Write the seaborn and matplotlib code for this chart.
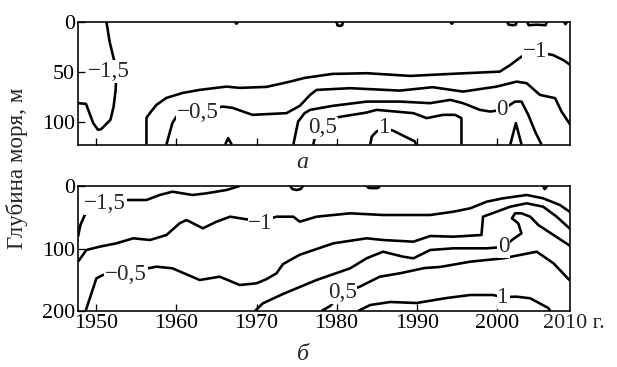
import matplotlib
matplotlib.use("Agg")
import matplotlib.pyplot as plt
import seaborn as sns

# ---- panel a (0-120 m) isolines: year / depth pairs
a_m15_year = [1947.7, 1948.7, 1949.6, 1950.2, 1950.6, 1951.75, 1952.15, 1952.4, 1952.5, 1952.3, 1951.65, 1951.25]
a_m15_depth = [81.6, 82.3, 101.6, 108.3, 107.6, 98.3, 85, 68.3, 53, 41.6, 20, 0]

a_m10_year = [1956.25, 1956.25, 1956.7, 1957.5, 1958.75, 1960.8, 1962.9, 1966.25, 1967.9, 1971.25, 1974.2,
              1976.0, 1979.5, 1983.8, 1989.2, 1994.2, 2000.4, 2001.7, 2003.1, 2004.8, 2007.0, 2008.3, 2009.2]
a_m10_depth = [123, 96.3, 91.3, 83.3, 76.3, 71.3, 68.3, 65, 66.3, 65.3, 60,
               56.3, 52.3, 51.6, 54.3, 52.3, 50, 43.3, 35, 30.3, 33.3, 38.3, 43.3]

a_m05_year = [1958.75, 1959.15, 1959.5, 1960.0, 1962.7, 1965.8, 1967.0, 1969.5, 1973.75, 1975.4, 1976.7, 1977.5,
              1981.7, 1987.9, 1992.0, 1995.8, 2000.0, 2002.5, 2003.75, 2005.4, 2007.3, 2008.1, 2009.2]
a_m05_depth = [123, 111.3, 101.3, 95, 90.3, 85, 86.3, 93.3, 91.6, 84.3, 73.3, 68.3,
               66.6, 69, 65.6, 70, 65, 60, 61.6, 73.3, 76.6, 90, 103.3]

a_0_year = [1974.6, 1975.2, 1976.0, 1976.7, 1979.5, 1983.8, 1987.9, 1991.7, 1994.2, 1995.8, 1997.9, 1999.2,
            2000.7, 2002.3, 2003.1, 2003.95, 2004.8, 2005.6]
a_0_depth = [123, 100, 91.6, 88.3, 84.3, 80, 80, 81.6, 78.3, 81.6, 88.3, 90,
             88.3, 80, 80, 93.3, 110, 123]

a_05_year = [1977.1, 1977.3, 1978.5, 1980.2, 1983.75, 1985.0, 1989.6, 1991.25, 1993.3, 1994.8, 1995.6, 1995.6]
a_05_depth = [123, 115, 105.3, 95.6, 91, 88.3, 91.6, 96.6, 93.3, 93.3, 96.6, 123]

a_10_year = [1984.2, 1984.4, 1985.0, 1986.0, 1987.1, 1989.8, 1989.9]
a_10_depth = [123, 115, 110, 106.3, 109.3, 120, 123]

a_spike_year = [2001.7, 2002.4, 2003.1]
a_spike_depth = [123, 101.6, 123]
a_bump_year = [1966.1, 1966.45, 1966.9]
a_bump_depth = [123, 116.6, 123]

# small patches at the surface
a_top1_year = [1967.3, 1967.5, 1967.7]
a_top1_depth = [0, 2, 0]
a_top2_year = [1980.0, 1980.1, 1980.4, 1980.7, 1980.8]
a_top2_depth = [0, 3.5, 4.3, 3.5, 0]
a_top3_year = [1994.2, 1994.4, 1994.6]
a_top3_depth = [0, 2, 0]
a_top4_year = [2001.3, 2001.5, 2002.0, 2002.4, 2002.5]
a_top4_depth = [0, 3, 3.5, 3, 0]
a_top5_year = [2003.8, 2004.0, 2005.0, 2006.1, 2006.3]
a_top5_depth = [0, 3.5, 3, 3.5, 0]
a_top6_year = [2008.4, 2008.6, 2008.8]
a_top6_depth = [0, 2.5, 0]

# ---- panel b (0-200 m)
b_m15_year = [1947.7, 1948.0, 1948.55, 1949.8, 1951.65, 1953.95, 1956.25, 1957.9, 1959.5, 1962.0, 1963.75, 1966.25, 1967.9]
b_m15_depth = [81.1, 62.4, 46.4, 30.4, 24, 22.4, 22.4, 14.4, 9.1, 14.4, 11.7, 6.4, 0]

b_m10_year = [1947.7, 1948.75, 1950.4, 1952.5, 1954.6, 1956.7, 1958.75, 1960.4, 1961.25, 1963.3, 1965.0, 1966.7,
              1968.75, 1970.7, 1972.5, 1974.6, 1975.4, 1977.5, 1981.7, 1985.8, 1991.7, 1994.6, 1996.7, 1998.75,
              2000.8, 2003.75, 2005.8, 2007.9, 2009.2]
b_m10_depth = [121.1, 102.4, 97.1, 91.7, 83.7, 86.4, 78.4, 59.7, 54.4, 67.7, 57.1, 49.1,
               53.3, 56, 49.1, 49.1, 57.1, 49.1, 43.7, 46.4, 46.4, 41.1, 35.7, 25.1,
               19.7, 14.4, 19.7, 30.4, 42]

b_m05_year = [1948.65, 1950.0, 1950.8, 1953.5, 1957.5, 1959.5, 1962.9, 1965.4, 1967.9, 1970.0, 1971.25, 1972.5,
              1973.3, 1975.4, 1979.6, 1983.75, 1985.8, 1989.6, 1991.7, 1994.6, 1998.1, 1998.3, 2000.0, 2001.7,
              2003.75, 2005.8, 2007.5, 2009.2]
b_m05_depth = [200, 147.7, 142.4, 139, 129.1, 131.7, 150.4, 145.1, 158.4, 155.7, 149, 139.7,
               125, 110, 91.7, 83.7, 86.4, 89.1, 80, 81.1, 78.4, 49.1, 41.1, 33.1,
               27.7, 33.1, 49.1, 69]

b_0_year = [1969.8, 1970.8, 1973.3, 1977.5, 1981.7, 1983.75, 1985.8, 1988.3, 1989.6, 1991.7, 1994.6, 1998.75,
            2000.9, 2001.9, 2003.1, 2002.7, 2001.9, 2002.3, 2003.1, 2004.2, 2005.2, 2007.1, 2009.2]
b_0_depth = [200, 187.7, 172.8, 150.4, 131.7, 115.7, 105.1, 113.1, 115.7, 102.4, 99.7, 99.7,
             97.6, 86.4, 75.7, 59.7, 51.7, 43.7, 43.7, 49.1, 62.4, 78.4, 96]

b_05_year = [1978.1, 1979.2, 1980.7, 1982.9, 1985.4, 1987.9, 1991.0, 1992.9, 1996.7, 2000.8, 2002.9, 2005.0, 2007.1, 2009.2]
b_05_depth = [200, 192, 171, 161.1, 145.1, 139.7, 131.2, 129.6, 121.1, 115.7, 110.4, 105.1, 123.7, 152]

b_10_year = [1982.7, 1984.2, 1986.7, 1990.0, 1993.75, 1996.7, 1999.5, 2000.8, 2002.5, 2004.2, 2006.45, 2006.7]
b_10_depth = [200, 190.4, 185.6, 187.2, 179.2, 174.4, 174.4, 177.6, 177.1, 179.7, 195.2, 200]

b_top1_year = [1974.2, 1974.5, 1975.0, 1975.5, 1975.8]
b_top1_depth = [0, 5, 6.4, 5, 0]
b_top2_year = [1983.75, 1984.0, 1984.6, 1985.2, 1985.4]
b_top2_depth = [0, 3, 3.5, 3, 0]
b_top3_year = [2005.8, 2006.0, 2006.3]
b_top3_depth = [0, 5, 0]

# isoline labels
iso_labels = ["\u22121,5", "\u22121", "\u22120,5", "0", "0,5", "1"]
a_label_year = [1951.6, 2004.8, 1962.7, 2000.7, 1978.3, 1986.0]
a_label_depth = [50, 30, 91.3, 88.3, 106.3, 106.3]
b_label_year = [1951.1, 1970.5, 1953.7, 2000.9, 1980.7, 2000.8]
b_label_depth = [27.7, 59.7, 142.4, 97, 171, 179]

decade_ticks = [1950, 1960, 1970, 1980, 1990, 2000]

a_lines = [
    (a_m15_year, a_m15_depth), (a_m10_year, a_m10_depth), (a_m05_year, a_m05_depth),
    (a_0_year, a_0_depth), (a_05_year, a_05_depth), (a_10_year, a_10_depth),
    (a_spike_year, a_spike_depth), (a_bump_year, a_bump_depth),
    (a_top1_year, a_top1_depth), (a_top2_year, a_top2_depth), (a_top3_year, a_top3_depth),
    (a_top4_year, a_top4_depth), (a_top5_year, a_top5_depth), (a_top6_year, a_top6_depth),
]
b_lines = [
    (b_m15_year, b_m15_depth), (b_m10_year, b_m10_depth), (b_m05_year, b_m05_depth),
    (b_0_year, b_0_depth), (b_05_year, b_05_depth), (b_10_year, b_10_depth),
    (b_top1_year, b_top1_depth), (b_top2_year, b_top2_depth), (b_top3_year, b_top3_depth),
]

sns.set_style("white")
plt.rcParams["font.family"] = ["Liberation Serif", "DejaVu Serif"]

W, H = 617, 367
fig = plt.figure(figsize=(W / 72, H / 72), dpi=72)
ax_a = fig.add_axes([78 / W, 1 - 144.5 / H, 492 / W, 122.8 / H])
ax_b = fig.add_axes([78 / W, 1 - 311 / H, 492 / W, 125 / H])


def draw_panel(ax, lines, lab_year, lab_depth, depth_max, yticks):
    for yr, dp in lines:
        sns.lineplot(x=yr, y=dp, ax=ax, sort=False, estimator=None,
                     color="black", lw=2.6, solid_capstyle="butt")
    for txt, x, y in zip(iso_labels, lab_year, lab_depth):
        ax.text(x, y, txt, fontsize=23, ha="center", va="center", zorder=5,
                bbox=dict(fc="white", ec="none", pad=0.6))
    ax.set_xlim(1947.7, 2009.16)
    ax.set_ylim(depth_max, 0)
    ax.set_xticks(decade_ticks)
    ax.set_yticks(yticks)
    ax.set_xlabel(""); ax.set_ylabel("")
    ax.tick_params(direction="in", length=7, width=1.3, labelsize=22, pad=3,
                   top=False, right=False, bottom=True, left=True, colors="black")
    for s in ax.spines.values():
        s.set_linewidth(1.6)
        s.set_color("black")
        s.set_zorder(6)


draw_panel(ax_a, a_lines, a_label_year, a_label_depth, 123, [0, 50, 100])
draw_panel(ax_b, b_lines, b_label_year, b_label_depth, 200, [0, 100, 200])
ax_a.tick_params(labelbottom=False)

fig.text(543 / W, 1 - 314 / H, "2010 г.", fontsize=22, ha="left", va="top")
fig.text(17 / W, 1 - 168 / H, "Глубина моря, м", fontsize=23, rotation=90, ha="center", va="center")
fig.text(302 / W, 1 - 163 / H, "а", fontsize=24, style="italic", ha="center", va="center")
fig.text(303 / W, 1 - 355 / H, "б", fontsize=24, style="italic", ha="center", va="center")

fig.savefig("out.png", dpi=72, facecolor="white")
